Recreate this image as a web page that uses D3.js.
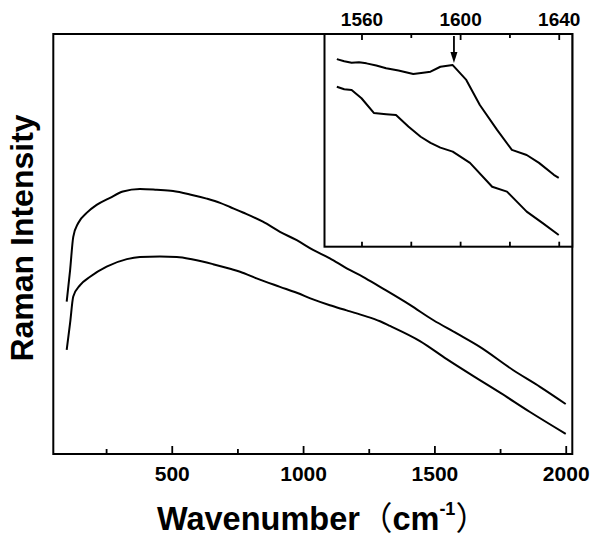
<!DOCTYPE html>
<html>
<head>
<meta charset="utf-8">
<script src="https://cdn.jsdelivr.net/npm/d3@7"></script>
<style>
  body { margin: 0; background: #fff; }
  text { font-family: "Liberation Sans", Arial, sans-serif; font-weight: bold; fill: #000; }
</style>
</head>
<body>
<div id="chart"></div>
<script>
// main spectrum, wavenumber (cm-1) / intensity (a.u.)
var mainWave = {
    upper: [100, 113, 125, 144, 176, 214, 265, 314, 379, 443, 505, 569, 633, 684, 722, 771, 847, 912, 976, 1038, 1102, 1166, 1228, 1293, 1407, 1495, 1585, 1673, 1799, 1902, 2000],
    lower: [100, 113, 125, 151, 189, 252, 329, 379, 455, 519, 581, 657, 722, 760, 823, 912, 976, 1038, 1102, 1166, 1228, 1293, 1331, 1445, 1547, 1673, 1750, 1864, 2000]
};
var upperIntensity = [36.3, 43.8, 51.7, 55.0, 57.4, 59.3, 61.0, 62.5, 63.1, 62.9, 62.6, 61.8, 60.8, 59.8, 58.8, 57.5, 55.3, 52.9, 50.9, 48.6, 46.6, 44.2, 42.2, 39.8, 35.5, 31.9, 28.7, 25.5, 20.0, 16.0, 11.9];
var lowerIntensity = [24.8, 31.2, 37.5, 40.2, 42.2, 44.6, 46.4, 46.9, 47.0, 46.9, 46.3, 45.2, 44.1, 43.4, 41.8, 39.8, 38.4, 36.8, 35.4, 34.2, 33.0, 31.6, 30.5, 26.9, 22.6, 17.6, 14.6, 10.0, 4.8];

// inset, 1550-1640 cm-1
var insetWaveUpper = [1550, 1553, 1556, 1559, 1562, 1566, 1570, 1575, 1581, 1585, 1588, 1592, 1597, 1602.5, 1608, 1615, 1621, 1627, 1632, 1638, 1640];
var insetUpper = [88.2, 87.2, 86.5, 86.7, 86.2, 85.2, 83.9, 82.8, 81.2, 81.8, 82.3, 84.6, 85.4, 78.4, 66.6, 54.9, 45.5, 43.1, 39.4, 33.8, 32.4];
var insetWaveLower = [1550, 1553, 1556, 1560, 1565, 1570, 1574, 1579, 1584, 1588, 1592, 1597, 1604, 1613, 1619, 1627, 1633.5, 1640];
var insetLower = [75.2, 74.0, 73.7, 69.8, 62.9, 62.3, 61.9, 56.5, 51.7, 48.8, 46.6, 44.7, 39.4, 28.2, 25.9, 16.5, 11.1, 5.5];
var peakWave = 1597.5;

var mainTicks = [500, 1000, 1500, 2000];
var mainMinor = [250, 750, 1250, 1750];
var insetTicks = [1560, 1600, 1640];
var insetMinor = [1580, 1620];


var width = 600,
    height = 547;

var svg = d3.select("#chart").append("svg")
    .attr("width", width)
    .attr("height", height);

var plot = { left: 53.3, right: 572.3, top: 34, bottom: 454 };
var inset = { left: 324.5, right: 572.3, top: 34, bottom: 246.7 };

var x = d3.scaleLinear().domain([49, 2025]).range([plot.left, plot.right]);
var y = d3.scaleLinear().domain([0, 100]).range([plot.bottom, plot.top]);

var xi = d3.scaleLinear().domain([1545, 1645.5]).range([inset.left, inset.right]);
var yi = d3.scaleLinear().domain([0, 100]).range([inset.bottom, inset.top]);


function drawLine(g, xs, ys, xScale, yScale, curve) {
    var pts = xs.map(function (d, i) { return [d, ys[i]]; });
    var line = d3.line()
        .x(function (d) { return xScale(d[0]); })
        .y(function (d) { return yScale(d[1]); })
        .curve(curve);
    g.append("path")
        .datum(pts)
        .attr("d", line)
        .attr("fill", "none")
        .attr("stroke", "#000")
        .attr("stroke-width", 2)
        .attr("stroke-linejoin", "round");
}

function styleAxis(g) {
    g.select(".domain").remove();
    g.selectAll(".tick line").attr("stroke", "#000").attr("stroke-width", 1.8);
    g.selectAll("text").attr("font-family", null).attr("fill", "#000");
}

// main curves
drawLine(svg, mainWave.upper, upperIntensity, x, y, d3.curveMonotoneX);
drawLine(svg, mainWave.lower, lowerIntensity, x, y, d3.curveMonotoneX);

// main bottom axis, ticks pointing in
var gx = svg.append("g")
    .attr("transform", "translate(0," + plot.bottom + ")")
    .call(d3.axisBottom(x).tickValues(mainTicks).tickSize(-8).tickPadding(12).tickFormat(d3.format("d")));
styleAxis(gx);
gx.selectAll("text").attr("font-size", 21);

var gxm = svg.append("g")
    .attr("transform", "translate(0," + plot.bottom + ")")
    .call(d3.axisBottom(x).tickValues(mainMinor).tickSize(-5).tickFormat(""));
styleAxis(gxm);

svg.append("rect")
    .attr("x", plot.left)
    .attr("y", plot.top)
    .attr("width", plot.right - plot.left)
    .attr("height", plot.bottom - plot.top)
    .attr("fill", "none")
    .attr("stroke", "#000")
    .attr("stroke-width", 2);


// inset box
svg.append("rect")
    .attr("x", inset.left)
    .attr("y", inset.top)
    .attr("width", inset.right - inset.left)
    .attr("height", inset.bottom - inset.top)
    .attr("fill", "#fff")
    .attr("stroke", "none");

drawLine(svg, insetWaveUpper, insetUpper, xi, yi, d3.curveLinear);
drawLine(svg, insetWaveLower, insetLower, xi, yi, d3.curveLinear);

var gt = svg.append("g")
    .attr("transform", "translate(0," + inset.top + ")")
    .call(d3.axisTop(xi).tickValues(insetTicks).tickSize(-6).tickPadding(8).tickFormat(d3.format("d")));
styleAxis(gt);
gt.selectAll("text").attr("font-size", 19);

var gtm = svg.append("g")
    .attr("transform", "translate(0," + inset.top + ")")
    .call(d3.axisTop(xi).tickValues(insetMinor).tickSize(-4).tickFormat(""));
styleAxis(gtm);

var gb = svg.append("g")
    .attr("transform", "translate(0," + inset.bottom + ")")
    .call(d3.axisBottom(xi).tickValues(insetTicks.concat(insetMinor)).tickSize(-5).tickFormat(""));
styleAxis(gb);

svg.append("rect")
    .attr("x", inset.left)
    .attr("y", inset.top)
    .attr("width", inset.right - inset.left)
    .attr("height", inset.bottom - inset.top)
    .attr("fill", "none")
    .attr("stroke", "#000")
    .attr("stroke-width", 2);

// arrow on the 1600 peak
var ax = xi(peakWave);
var peakY = yi(insetUpper[insetWaveUpper.indexOf(1597)]);
svg.append("line")
    .attr("x1", ax).attr("x2", ax)
    .attr("y1", inset.top + 2).attr("y2", peakY - 12)
    .attr("stroke", "#000")
    .attr("stroke-width", 1.8);
svg.append("path")
    .attr("d", "M" + (ax - 3.5) + "," + (peakY - 13) + "L" + (ax + 3.5) + "," + (peakY - 13) + "L" + ax + "," + (peakY - 2) + "Z")
    .attr("fill", "#000");


// axis titles
var xt = svg.append("text")
    .attr("x", 157)
    .attr("y", 530)
    .attr("font-size", 32.5);
xt.append("tspan").text("Wavenumber");
xt.append("tspan").attr("font-family", "Noto Sans CJK SC").attr("font-weight", "normal").text("（");
xt.append("tspan").text("cm");
xt.append("tspan").attr("font-size", 18).attr("dy", -15).text("-1");
xt.append("tspan").attr("dy", 15).attr("font-family", "Noto Sans CJK SC").attr("font-weight", "normal").text("）");

svg.append("text")
    .attr("transform", "translate(33," + 238 + ") rotate(-90)")
    .attr("text-anchor", "middle")
    .attr("font-size", 32)
    .text("Raman Intensity");
</script>
</body>
</html>
